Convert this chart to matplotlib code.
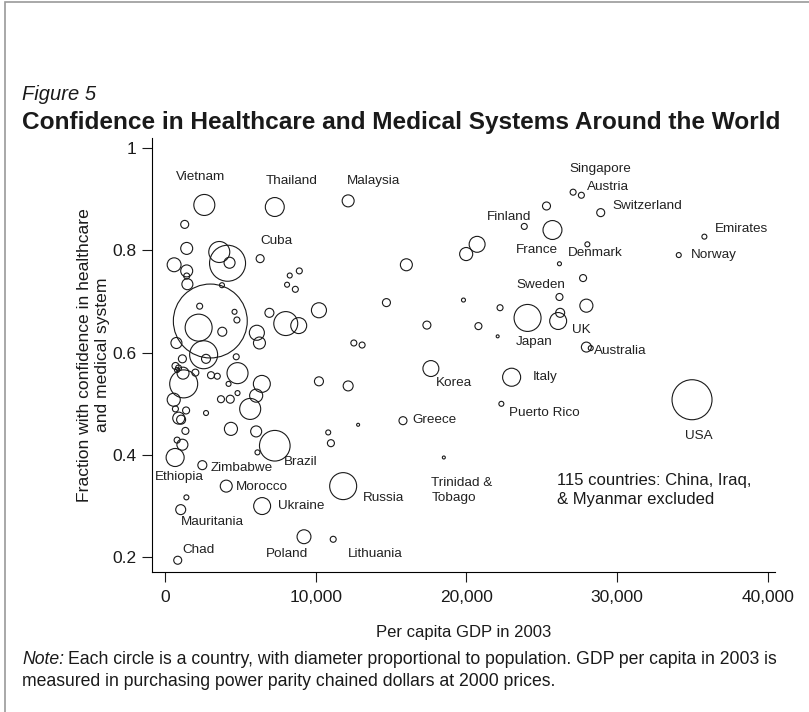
import numpy as np
import matplotlib
matplotlib.use("Agg")
import matplotlib.pyplot as plt
from matplotlib.patches import Rectangle

plt.rcParams['font.family'] = ['Liberation Sans', 'DejaVu Sans']

# labelled countries: GDP per capita, confidence, population (millions)
countries = ["Vietnam", "Thailand", "Malaysia", "Cuba", "Singapore", "Austria",
             "Switzerland", "Finland", "France", "Denmark", "Emirates", "Norway",
             "Sweden", "UK", "Japan", "Australia", "Italy", "Puerto Rico", "USA",
             "Korea", "Greece", "Trinidad & Tobago", "Russia", "Lithuania", "Brazil",
             "Zimbabwe", "Ethiopia", "Morocco", "Ukraine", "Mauritania", "Chad", "Poland"]
gdp = [2612, 7288, 12156, 6316, 27083, 27632,
       28915, 23843, 25714, 28029, 35794, 34094,
       26177, 26091, 24061, 27963, 23003, 22322, 34974,
       17646, 15794, 18505, 11825, 11164, 7288,
       2480, 675, 4067, 6448, 1045, 847, 9226]
conf = [0.889, 0.885, 0.897, 0.784, 0.914, 0.908,
        0.874, 0.847, 0.840, 0.812, 0.827, 0.791,
        0.709, 0.662, 0.668, 0.611, 0.552, 0.500, 0.508,
        0.569, 0.467, 0.395, 0.339, 0.235, 0.418,
        0.380, 0.395, 0.339, 0.300, 0.293, 0.194, 0.240]
pop = [80, 65, 26, 11.6, 6.5, 6.5,
       11.6, 6.5, 65, 4.5, 4.5, 4.5,
       8.9, 52, 132, 18, 59, 4.5, 290,
       46, 11.6, 1.6, 132, 6.5, 170,
       14.7, 59, 26, 52, 18, 11.6, 35]

# unlabelled countries
other_gdp = [3604, 4153, 4286, 3009, 2235, 2566, 8016, 8876, 10218, 6098,
             6931, 3803, 6270, 761, 4729, 1157, 2302, 4616, 4775, 1310,
             1442, 608, 1442, 1442, 1488, 3783, 8280, 8915, 8102, 8651,
             10833, 11012, 2725, 700, 900, 800, 1200, 1243, 2017, 3056,
             3472, 4815, 10218, 4220, 6429, 4815, 6052, 3717, 4332, 582,
             5655, 694, 1402, 2725, 913, 1071, 1356, 4378, 6052, 6138,
             807, 1157, 1422, 25317, 20714, 19987, 16019, 14696, 19808, 22235,
             17381, 20800, 22077, 12533, 13082, 12156, 12817, 26177, 27745, 26224,
             27963, 28254]
other_conf = [0.797, 0.775, 0.776, 0.662, 0.649, 0.596, 0.657, 0.653, 0.683, 0.639,
              0.678, 0.641, 0.619, 0.619, 0.592, 0.588, 0.691, 0.680, 0.664, 0.851,
              0.804, 0.772, 0.760, 0.750, 0.734, 0.732, 0.751, 0.760, 0.733, 0.724,
              0.444, 0.423, 0.588, 0.574, 0.570, 0.566, 0.560, 0.539, 0.561, 0.556,
              0.554, 0.560, 0.544, 0.539, 0.539, 0.521, 0.516, 0.509, 0.509, 0.508,
              0.490, 0.490, 0.487, 0.482, 0.472, 0.469, 0.447, 0.451, 0.446, 0.405,
              0.429, 0.420, 0.317, 0.887, 0.812, 0.793, 0.772, 0.698, 0.703, 0.688,
              0.654, 0.652, 0.632, 0.619, 0.615, 0.535, 0.459, 0.774, 0.746, 0.678,
              0.692, 0.609]
other_pop = [80, 235, 22, 990, 132, 142, 104, 46, 41, 41,
             14.7, 14.7, 26, 22, 6.5, 11.6, 6.5, 4.5, 6.5, 11.6,
             26, 35, 26, 6.5, 22, 4.5, 4.5, 6.5, 4.5, 6.5,
             4.5, 8.9, 14.7, 8.9, 6.5, 4.5, 26, 142, 8.9, 8.9,
             6.5, 80, 14.7, 4.5, 52, 4.5, 31, 8.9, 11.6, 31,
             80, 6.5, 8.9, 4.5, 26, 14.7, 8.9, 31, 22, 4.5,
             6.5, 22, 4.5, 11.6, 46, 31, 26, 11.6, 2.9, 6.5,
             11.6, 8.9, 1.6, 6.5, 6.5, 18, 1.6, 2.9, 8.9, 14.7,
             31, 4.5]

# label anchor (left edge, vertical centre) in data units
label_x = [760, 6693, 12050, 6316, 26865, 28009,
           29663, 21329, 23313, 26753, 36521, 34888,
           23313, 26997, 23294, 28473, 24372, 22851, 34491,
           17957, 16389, 17672, 13148, 12156, 7903,
           3009, -694, 4709, 7526, 1025, 1177, 6667]
label_y = [0.9437, 0.9364, 0.9358, 0.8181, 0.9594, 0.9240,
           0.8873, 0.8658, 0.8004, 0.7951, 0.8416, 0.7906,
           0.7317, 0.6453, 0.6218, 0.6035, 0.5531, 0.4811, 0.4377,
           0.5399, 0.4681, 0.3299, 0.3156, 0.2071, 0.3857,
           0.3739, 0.3568, 0.3372, 0.2999, 0.2685, 0.2142, 0.2071]
label_text = [c.replace("Trinidad & Tobago", "Trinidad &\nTobago") for c in countries]

fig = plt.figure(figsize=(8.09, 7.12), dpi=100)
fig.add_artist(Rectangle((5 / 809, -0.1), 1.2, 1.1 - 2 / 712, transform=fig.transFigure,
                         fill=False, edgecolor='#9a9a9a', lw=1.2))

ax = fig.add_axes([152 / 809, 1 - 572 / 712, (775 - 152) / 809, (572 - 138) / 712])

all_x = np.array(gdp + other_gdp)
all_y = np.array(conf + other_conf)
all_p = np.array(pop + other_pop)
order = np.argsort(-all_p)
ax.scatter(all_x[order], all_y[order], s=all_p[order] * 2.86, facecolors='none',
           edgecolors='#1a1a1a', linewidths=0.8, clip_on=False)

for t, lx, ly in zip(label_text, label_x, label_y):
    ax.text(lx, ly, t, fontsize=9.7, color='#222222', ha='left', va='center',
            linespacing=1.3)

ax.text(26025, 0.3313, "115 countries: China, Iraq,\n& Myanmar excluded", fontsize=12,
        color='#1a1a1a', ha='left', va='center', linespacing=1.3)

ax.set_xlim(-860, 40480)
ax.set_ylim(0.171, 1.02)
ax.set_xticks([0, 10000, 20000, 30000, 40000])
ax.set_xticklabels(["0", "10,000", "20,000", "30,000", "40,000"])
ax.set_yticks([0.2, 0.4, 0.6, 0.8, 1.0])
ax.set_yticklabels(["0.2", "0.4", "0.6", "0.8", "1"])
ax.tick_params(labelsize=12.5, length=7, width=0.8, colors='#1a1a1a')
ax.tick_params(axis='y', pad=4)
ax.tick_params(axis='x', pad=6)
for side in ['top', 'right']:
    ax.spines[side].set_visible(False)
for side in ['left', 'bottom']:
    ax.spines[side].set_linewidth(0.8)
ax.set_xlabel("Per capita GDP in 2003", fontsize=12, labelpad=14, color='#1a1a1a')
ax.set_ylabel("Fraction with confidence in healthcare\nand medical system", fontsize=12.6,
              labelpad=2, color='#1a1a1a')

fig.text(22 / 809, 1 - 95 / 712, "Figure 5", fontsize=14.5, style='italic',
         ha='left', va='center', color='#1a1a1a')
fig.text(22 / 809, 1 - 122 / 712, "Confidence in Healthcare and Medical Systems Around the World",
         fontsize=17.6, fontweight='bold', ha='left', va='center', color='#1a1a1a')

# note: italic lead-in followed by regular text
note1 = fig.text(22 / 809, 1 - 659 / 712, "Note:", fontsize=12.7, style='italic',
                 ha='left', va='center', color='#1a1a1a')
fig.canvas.draw()
bb = note1.get_window_extent()
fig.text((bb.x1 + 4) / 809, 1 - 659 / 712,
         "Each circle is a country, with diameter proportional to population. GDP per capita in 2003 is",
         fontsize=12.7, ha='left', va='center', color='#1a1a1a')
fig.text(22 / 809, 1 - 681 / 712,
         "measured in purchasing power parity chained dollars at 2000 prices.",
         fontsize=12.7, ha='left', va='center', color='#1a1a1a')

fig.savefig("out.png", dpi=100)
